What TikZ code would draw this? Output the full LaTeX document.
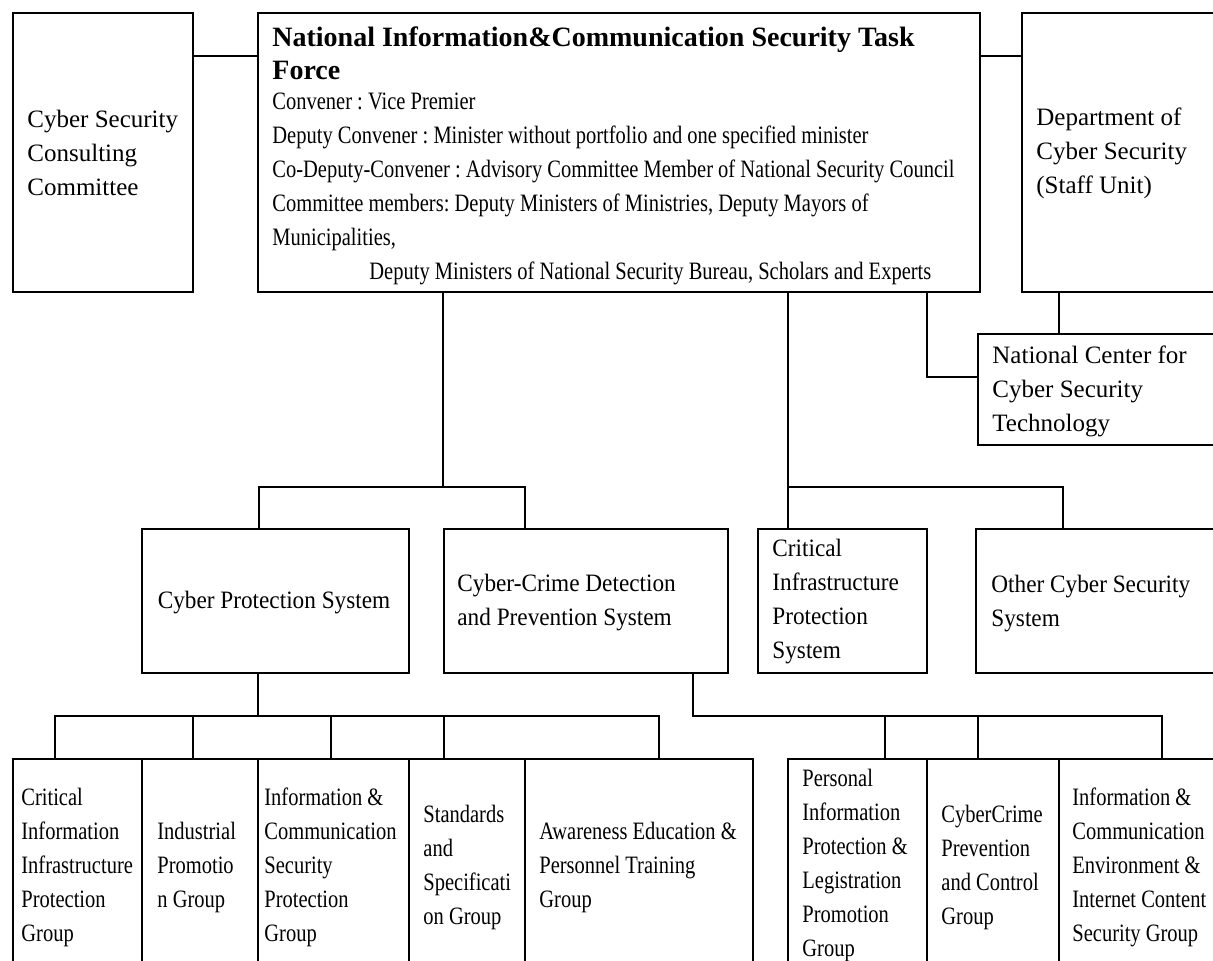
\documentclass[tikz,border=0pt]{standalone}
\usepackage{fontspec}
\setmainfont{Liberation Serif}
\newfontfamily\condfont[FakeStretch=0.82]{Liberation Serif}
\newfontfamily\semifont[FakeStretch=0.93]{Liberation Serif}
\usetikzlibrary{fit}
\frenchspacing
\begin{document}
\begin{tikzpicture}[x=0.5pt,y=-0.5pt,
  box/.style={draw, line width=1pt, inner sep=0pt, rectangle},
  txt/.style={inner sep=0pt, anchor=west, align=left, font=\fontsize{12.5pt}{17pt}\selectfont},
  ctxt/.style={txt, font=\condfont\fontsize{12.5pt}{17pt}\selectfont},
  stxt/.style={txt, font=\semifont\fontsize{12.5pt}{17pt}\selectfont},
  titletxt/.style={txt, font=\bfseries\fontsize{14pt}{16.5pt}\selectfont},
  link/.style={draw, line width=1pt}]
\useasboundingbox (0,0) rectangle (1213,961);
\clip (0,0) rectangle (1213,961);
% top row boxes
\node[box, fit={(13,13) (193,292)}] (csc) {};
\node[box, fit={(258,13) (980,292)}] (main) {};
\node[box, fit={(1022,13) (1240,292)}] (dept) {};
\node[box, fit={(978,334) (1240,445)}] (nccst) {};
% second row
\node[box, fit={(142,529) (409,673)}] (cps) {};
\node[box, fit={(444,529) (728,673)}] (ccdps) {};
\node[box, fit={(758,529) (927,673)}] (cips) {};
\node[box, fit={(976,529) (1240,673)}] (other) {};
% bottom row
\node[box, fit={(13,759) (142,990)}] (b1) {};
\node[box, fit={(142,759) (258,990)}] (b2) {};
\node[box, fit={(258,759) (409,990)}] (b3) {};
\node[box, fit={(409,759) (525,990)}] (b4) {};
\node[box, fit={(525,759) (753,990)}] (b5) {};
\node[box, fit={(788,759) (927,990)}] (b6) {};
\node[box, fit={(927,759) (1059,990)}] (b7) {};
\node[box, fit={(1059,759) (1240,990)}] (b8) {};
% texts
\node[txt] (csct) at (27,153) {Cyber Security\\Consulting\\Committee};
\node[txt] (deptt) at (1036,153) {Department of\\Cyber Security\\(Staff Unit)};
\node[titletxt] (ttl) at (272,53.5) {National Information\&Communication Security Task\\Force};
\node[ctxt] (body) at (272,189) {Convener : Vice Premier\\Deputy Convener : Minister without portfolio and one specified minister\\Co-Deputy-Convener : Advisory Committee Member of National Security Council\\Committee members: Deputy Ministers of Ministries, Deputy Mayors of\\Municipalities,\\\hspace*{48.5pt}Deputy Ministers of National Security Bureau, Scholars and Experts};
\node[txt] (nccstt) at (992,391) {National Center for\\Cyber Security\\Technology};
\node[stxt, anchor=center] (cpst) at (274,603) {Cyber Protection System};
\node[stxt] (ccdpst) at (457,602.5) {Cyber-Crime Detection\\and Prevention System};
\node[stxt] (cipst) at (772,602) {Critical\\Infrastructure\\Protection\\System};
\node[stxt] (othert) at (991,603.5) {Other Cyber Security\\System};
\node[ctxt] (b1t) at (21,867) {Critical\\Information\\Infrastructure\\Protection\\Group};
\node[ctxt] (b2t) at (157,867) {Industrial\\Promotio\\n Group};
\node[ctxt] (b3t) at (264,867) {Information \&\\Communication\\Security\\Protection\\Group};
\node[ctxt] (b4t) at (423,867) {Standards\\and\\Specificati\\on Group};
\node[ctxt] (b5t) at (539,867) {Awareness Education \&\\Personnel Training\\Group};
\node[ctxt] (b6t) at (802,865.5) {Personal\\Information\\Protection \&\\Legistration\\Promotion\\Group};
\node[ctxt] (b7t) at (941,867) {CyberCrime\\Prevention\\and Control\\Group};
\node[ctxt] (b8t) at (1072,867) {Information \&\\Communication\\Environment \&\\Internet Content\\Security Group};
% connectors
\draw[link] (csc.east |- 0,56) -- (main.west |- 0,56);
\draw[link] (main.east |- 0,56) -- (dept.west |- 0,56);
\draw[link] (dept.south -| 1059,0) -- (nccst.north -| 1059,0);
\draw[link] (main.south -| 927,0) |- (nccst.west |- 0,377);
\draw[link] (main.south -| 443,0) -- (443,487);
\draw[link] (cps.north -| 259,0) -- (259,487) -| (ccdps.north -| 525,0);
\draw[link] (main.south -| 788,0) -- (cips.north -| 788,0);
\draw[link] (788,487) -| (other.north -| 1063,0);
\draw[link] (cps.south -| 258,0) -- (258,716);
\draw[link] (b1.north -| 55,0) -- (55,716) -| (b5.north -| 659,0);
\draw[link] (b2.north -| 193,0) -- (193,716);
\draw[link] (b3.north -| 331,0) -- (331,716);
\draw[link] (b4.north -| 444,0) -- (444,716);
\draw[link] (ccdps.south -| 693,0) -- (693,716) -| (b8.north -| 1162,0);
\draw[link] (b6.north -| 885,0) -- (885,716);
\draw[link] (b7.north -| 978,0) -- (978,716);
\end{tikzpicture}
\end{document}
